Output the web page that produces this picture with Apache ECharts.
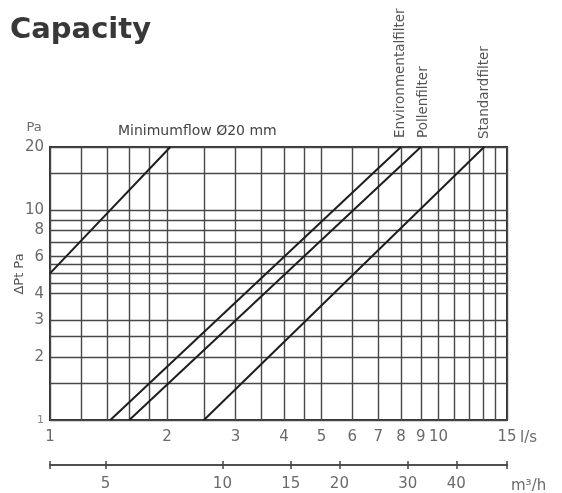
<!DOCTYPE html>
<html><head><meta charset="utf-8">
<script src="https://cdn.jsdelivr.net/npm/echarts@6/dist/echarts.min.js"></script>
<style>html,body{margin:0;padding:0;background:#fff}#c{width:562px;height:493px}</style>
</head><body><div id="c"></div>
<script>
// ---- data ----
const xTickLabels = [1, 2, 3, 4, 5, 6, 7, 8, 9, 10, 15];           // l/s
const xGridValues = [1, 1.2, 1.4, 1.6, 1.8, 2, 2.5, 3, 3.5, 4, 4.5, 5, 6, 7, 8, 9, 10, 11, 12, 13, 14, 15];
const yTickLabels = [1, 2, 3, 4, 6, 8, 10, 20];                    // Pa
const yGridValues = [1, 1.5, 2, 2.5, 3, 4, 4.5, 5, 5.5, 6, 7, 8, 9, 10, 15, 20];
const m3hTickLabels = [5, 10, 15, 20, 30, 40];                     // m3/h
const m3hTickMarks = [3.6, 5, 10, 15, 20, 30, 40, 54];
const m3hRange = [3.6, 54];
const minimumflow = [[1, 5], [2.04, 20]];
const environmentalfilter = [[1.43, 1], [8.0, 20]];
const pollenfilter = [[1.6, 1], [9.0, 20]];
const standardfilter = [[2.49, 1], [13.1, 20]];

const FONT = 'DejaVu Sans';
const LABEL_COLOR = '#6a6a6a';
const GRID_COLOR = '#484848';

const chart = echarts.init(document.getElementById('c'), null, {renderer: 'canvas'});

function lineSeries(name, data) {
  return {
    name, type: 'line', data, xAxisIndex: 0, yAxisIndex: 0,
    symbol: 'none', silent: true, z: 5,
    lineStyle: {color: '#1e1e1e', width: 2}
  };
}

const m3hAxisBase = {
  type: 'log', gridIndex: 0, position: 'bottom', offset: 45,
  min: m3hRange[0], max: m3hRange[1],
  axisLine: {show: true, lineStyle: {color: '#444', width: 1.5}},
  splitLine: {show: false}, minorTick: {show: false}, minorSplitLine: {show: false}
};

chart.setOption({
  animation: false,
  backgroundColor: '#fff',
  grid: {left: 50, right: 55, top: 147, bottom: 73, show: true, borderColor: '#333', borderWidth: 2, containLabel: false},
  xAxis: [
    {
      type: 'log', gridIndex: 0, position: 'bottom', min: 1, max: 15,
      axisLine: {show: false},
      axisTick: {show: false, customValues: xGridValues},
      axisLabel: {customValues: xTickLabels, margin: 10, color: LABEL_COLOR, fontFamily: FONT, fontSize: 15,
        showMinLabel: true, showMaxLabel: true, hideOverlap: false},
      splitLine: {show: true, lineStyle: {color: GRID_COLOR, width: 1.4}}
    },
    Object.assign({}, m3hAxisBase, {
      axisTick: {show: true, inside: false, length: 4, customValues: m3hTickMarks, lineStyle: {color: '#444', width: 1.5}},
      axisLabel: {customValues: m3hTickLabels, margin: 12, color: LABEL_COLOR, fontFamily: FONT, fontSize: 15, hideOverlap: false}
    }),
    Object.assign({}, m3hAxisBase, {
      axisTick: {show: true, inside: true, length: 4, customValues: m3hTickMarks, lineStyle: {color: '#444', width: 1.5}},
      axisLabel: {show: false}
    })
  ],
  yAxis: [{
    type: 'log', gridIndex: 0, min: 1, max: 20,
    axisLine: {show: false},
    axisTick: {show: false, customValues: yGridValues},
    axisLabel: {customValues: yTickLabels, margin: 6, color: LABEL_COLOR, fontFamily: FONT, fontSize: 15,
      showMinLabel: true, showMaxLabel: true, hideOverlap: false,
      formatter: v => (v === 1 ? '{s|1}' : String(v)),
      rich: {s: {fontSize: 11, color: '#888', fontFamily: FONT}}},
    splitLine: {show: true, lineStyle: {color: GRID_COLOR, width: 1.4}}
  }],
  series: [
    lineSeries('Minimumflow Ø20 mm', minimumflow),
    lineSeries('Environmentalfilter', environmentalfilter),
    lineSeries('Pollenfilter', pollenfilter),
    lineSeries('Standardfilter', standardfilter)
  ],
  graphic: [
    {type: 'text', x: 10, y: 16, style: {text: 'Capacity', font: 'bold 29px "DejaVu Sans"', fill: '#383838'}},
    {type: 'text', x: 34, y: 128, style: {text: 'Pa', font: '13px "DejaVu Sans"', fill: LABEL_COLOR, textAlign: 'center', textVerticalAlign: 'middle'}},
    {type: 'text', x: 20, y: 274, rotation: Math.PI / 2, style: {text: 'ΔPt Pa', font: '13px "DejaVu Sans"', fill: '#555', textAlign: 'center', textVerticalAlign: 'middle'}},
    {type: 'text', x: 118, y: 131, style: {text: 'Minimumflow Ø20 mm', font: '14px "DejaVu Sans"', fill: '#444', textVerticalAlign: 'middle'}},
    {type: 'text', x: 400, y: 138, rotation: Math.PI / 2, style: {text: 'Environmentalfilter', font: '13.5px "DejaVu Sans"', fill: '#555', textAlign: 'left', textVerticalAlign: 'middle'}},
    {type: 'text', x: 423, y: 138, rotation: Math.PI / 2, style: {text: 'Pollenfilter', font: '13.5px "DejaVu Sans"', fill: '#555', textAlign: 'left', textVerticalAlign: 'middle'}},
    {type: 'text', x: 484, y: 139, rotation: Math.PI / 2, style: {text: 'Standardfilter', font: '13.5px "DejaVu Sans"', fill: '#555', textAlign: 'left', textVerticalAlign: 'middle'}},
    {type: 'text', x: 520, y: 438, style: {text: 'l/s', font: '15px "DejaVu Sans"', fill: LABEL_COLOR, textVerticalAlign: 'middle'}},
    {type: 'text', x: 511, y: 486, style: {text: 'm³/h', font: '15px "DejaVu Sans"', fill: LABEL_COLOR, textVerticalAlign: 'middle'}}
  ]
});
</script>
</body></html>
